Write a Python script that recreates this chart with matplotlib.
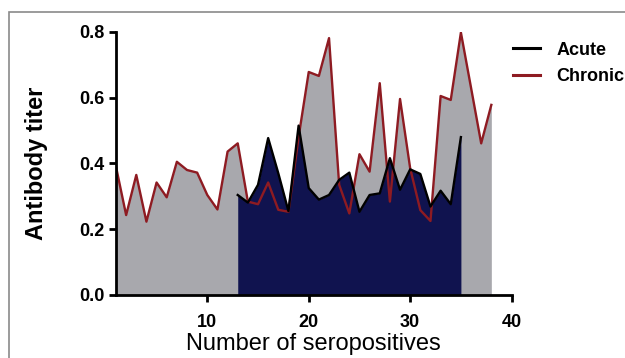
import numpy as np
import matplotlib.pyplot as plt
from matplotlib.patches import Rectangle

plt.rcParams['font.family'] = ['Liberation Sans', 'DejaVu Sans']

# Chronic group: seropositives 1..38
chronic_x = list(range(1, 39))
chronic_y = [0.39, 0.243, 0.365, 0.223, 0.342, 0.297, 0.405, 0.38, 0.372, 0.304,
             0.26, 0.436, 0.461, 0.284, 0.276, 0.342, 0.259, 0.253, 0.48, 0.678,
             0.666, 0.781, 0.335, 0.248, 0.428, 0.375, 0.644, 0.284, 0.596, 0.385,
             0.258, 0.225, 0.605, 0.593, 0.798, 0.63, 0.461, 0.578]

# Acute group: seropositives 13..35
acute_x = list(range(13, 36))
acute_y = [0.304, 0.281, 0.335, 0.477, 0.37, 0.255, 0.515, 0.325, 0.29, 0.304,
           0.35, 0.372, 0.253, 0.304, 0.309, 0.416, 0.32, 0.382, 0.368, 0.269,
           0.317, 0.276, 0.48]

y_ticks = [0.0, 0.2, 0.4, 0.6, 0.8]
x_ticks = [10, 20, 30, 40]

fig = plt.figure(figsize=(6.25, 3.58), dpi=100)
ax = fig.add_axes([0.1856, 0.176, 0.633, 0.735])

# fills first, lines on top
ax.fill_between(chronic_x, 0, chronic_y, color='#a8a8ad', lw=0)
ax.fill_between(acute_x, 0, acute_y, color='#10134f', lw=0)
ax.plot(chronic_x, chronic_y, color='#8e1b22', lw=1.7, label='Chronic')
ax.plot(acute_x, acute_y, color='black', lw=1.7, label='Acute')

ax.set_xlim(1, 40)
ax.set_ylim(0, 0.8)
ax.set_xticks(x_ticks)
ax.set_yticks(y_ticks)
ax.set_yticklabels([f'{v:.1f}' for v in y_ticks])
ax.tick_params(width=2, length=5, labelsize=13, pad=3)
ax.tick_params(axis='x', pad=9)
for lab in ax.get_xticklabels() + ax.get_yticklabels():
    lab.set_fontweight('bold')

for side in ['top', 'right']:
    ax.spines[side].set_visible(False)
for side in ['left', 'bottom']:
    ax.spines[side].set_linewidth(2)

ax.set_xlabel('Number of seropositives', fontsize=17, labelpad=1)
ax.set_ylabel('Antibody titer', fontsize=17, fontweight='bold', labelpad=23)

# legend sits past the right edge, "Chronic" is clipped like in the scan
handles, labels = ax.get_legend_handles_labels()
leg = ax.legend(handles[::-1], labels[::-1], loc='upper left',
                bbox_to_anchor=(0.962, 1.025), frameon=False, fontsize=13,
                handlelength=1.5, handletextpad=0.9, labelspacing=0.55)
for t in leg.get_texts():
    t.set_fontweight('bold')
for line in leg.get_lines():
    line.set_linewidth(2.2)

# thin grey frame round the figure like the scanned image
fig.patches.append(Rectangle((0.015, -0.05), 1.1, 1.016, transform=fig.transFigure,
                             fill=False, edgecolor='#8a8a8a', lw=1.2))

fig.savefig('out.png', dpi=100)
